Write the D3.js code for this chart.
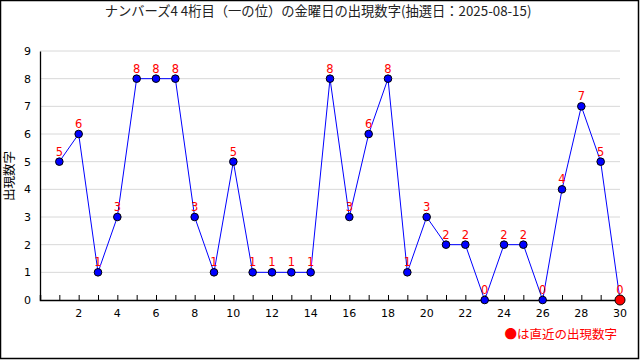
<!DOCTYPE html>
<html>
<head>
<meta charset="utf-8">
<script src="https://cdn.jsdelivr.net/npm/d3@7"></script>
<style>
  body { margin: 0; background: #fff; }
  svg { display: block; font-family: "Noto Sans CJK JP", "DejaVu Sans", sans-serif; }
</style>
</head>
<body>
<svg id="chart" width="640" height="360"></svg>
<script>
// draw numbers (index 1..30), last one is the latest
const draws = d3.range(1, 31);
const digits = [5, 6, 1, 3, 8, 8, 8, 3, 1, 5, 1, 1, 1, 1, 8, 3, 6, 8, 1, 3, 2, 2, 0, 2, 2, 0, 4, 7, 5, 0];
const yTicks = d3.range(0, 10);
const xLabels = d3.range(2, 31, 2);
const titleText = "ナンバーズ4\u00a04桁目（一の位）の金曜日の出現数字(抽選日：2025-08-15)";

let svg = d3.select('#chart');
let W = 640, H = 360;
let margin = {left: 40, right: 20, top: 51, bottom: 60};

svg.append('rect')
  .attr('x', 0.5).attr('y', 0.5)
  .attr('width', W - 2).attr('height', H - 2)
  .attr('fill', '#fff').attr('stroke', '#000').attr('stroke-width', 1.5);

let x = d3.scaleLinear().domain([0, 30]).range([margin.left, W - margin.right]);
let y = d3.scaleLinear().domain([0, 9]).range([H - margin.bottom, margin.top]);

// title
svg.append('text')
  .attr('x', 318).attr('y', 16)
  .attr('text-anchor', 'middle')
  .attr('font-size', 13.3)
  .attr('fill', '#222')
  .text(titleText);

// grid
svg.append('g')
  .selectAll('line')
  .data(yTicks.filter(d => d > 0))
  .enter().append('line')
  .attr('x1', x(0)).attr('x2', x(30))
  .attr('y1', d => y(d)).attr('y2', d => y(d))
  .attr('stroke', '#d8d8d8').attr('stroke-width', 1);

// y axis
let yAxis = svg.append('g')
  .attr('transform', 'translate(' + x(0) + ',0)')
  .call(d3.axisLeft(y).tickValues(yTicks).tickSize(0).tickPadding(9));
yAxis.select('.domain').attr('stroke', '#000').attr('stroke-width', 1.3);
yAxis.selectAll('text').attr('font-size', 11).attr('fill', '#000')
  .attr('font-family', '"DejaVu Sans", sans-serif');

// x axis, ticks pointing up into the plot
let xAxis = svg.append('g')
  .attr('transform', 'translate(0,' + y(0) + ')')
  .call(d3.axisBottom(x).tickValues(draws).tickSize(-5).tickFormat(''));
xAxis.select('.domain').attr('stroke', '#000').attr('stroke-width', 1.5);
xAxis.selectAll('.tick line').attr('stroke', '#000');

svg.append('g')
  .selectAll('text')
  .data(xLabels)
  .enter().append('text')
  .attr('x', d => x(d)).attr('y', y(0) + 17)
  .attr('text-anchor', 'middle')
  .attr('font-size', 11)
  .attr('font-family', '"DejaVu Sans", sans-serif')
  .text(d => d);

// y title
svg.append('text')
  .attr('transform', 'translate(14,' + 176 + ') rotate(-90)')
  .attr('text-anchor', 'middle')
  .attr('font-size', 12.5)
  .attr('fill', '#000')
  .text('出現数字');

// line
let line = d3.line()
  .x((d, i) => x(draws[i]))
  .y(d => y(d));
svg.append('path')
  .datum(digits)
  .attr('d', line)
  .attr('fill', 'none')
  .attr('stroke', '#0000ff')
  .attr('stroke-width', 1);

// labels
svg.append('g')
  .selectAll('text')
  .data(digits)
  .enter().append('text')
  .attr('x', (d, i) => x(draws[i]))
  .attr('y', d => y(d) - 6)
  .attr('text-anchor', 'middle')
  .attr('font-size', 11.5)
  .attr('font-family', '"DejaVu Sans", sans-serif')
  .attr('fill', '#ff0000')
  .text(d => d);

// points
svg.append('g')
  .selectAll('circle')
  .data(digits)
  .enter().append('circle')
  .attr('cx', (d, i) => x(draws[i]))
  .attr('cy', d => y(d))
  .attr('r', (d, i) => i === digits.length - 1 ? 5 : 3.8)
  .attr('fill', (d, i) => i === digits.length - 1 ? '#ff0000' : '#0000ff')
  .attr('stroke', '#000')
  .attr('stroke-width', 1);

// legend
svg.append('text')
  .attr('x', 617).attr('y', 339)
  .attr('text-anchor', 'end')
  .attr('font-size', 12.5)
  .attr('fill', '#ff0000')
  .text('●は直近の出現数字');
</script>
</body>
</html>
